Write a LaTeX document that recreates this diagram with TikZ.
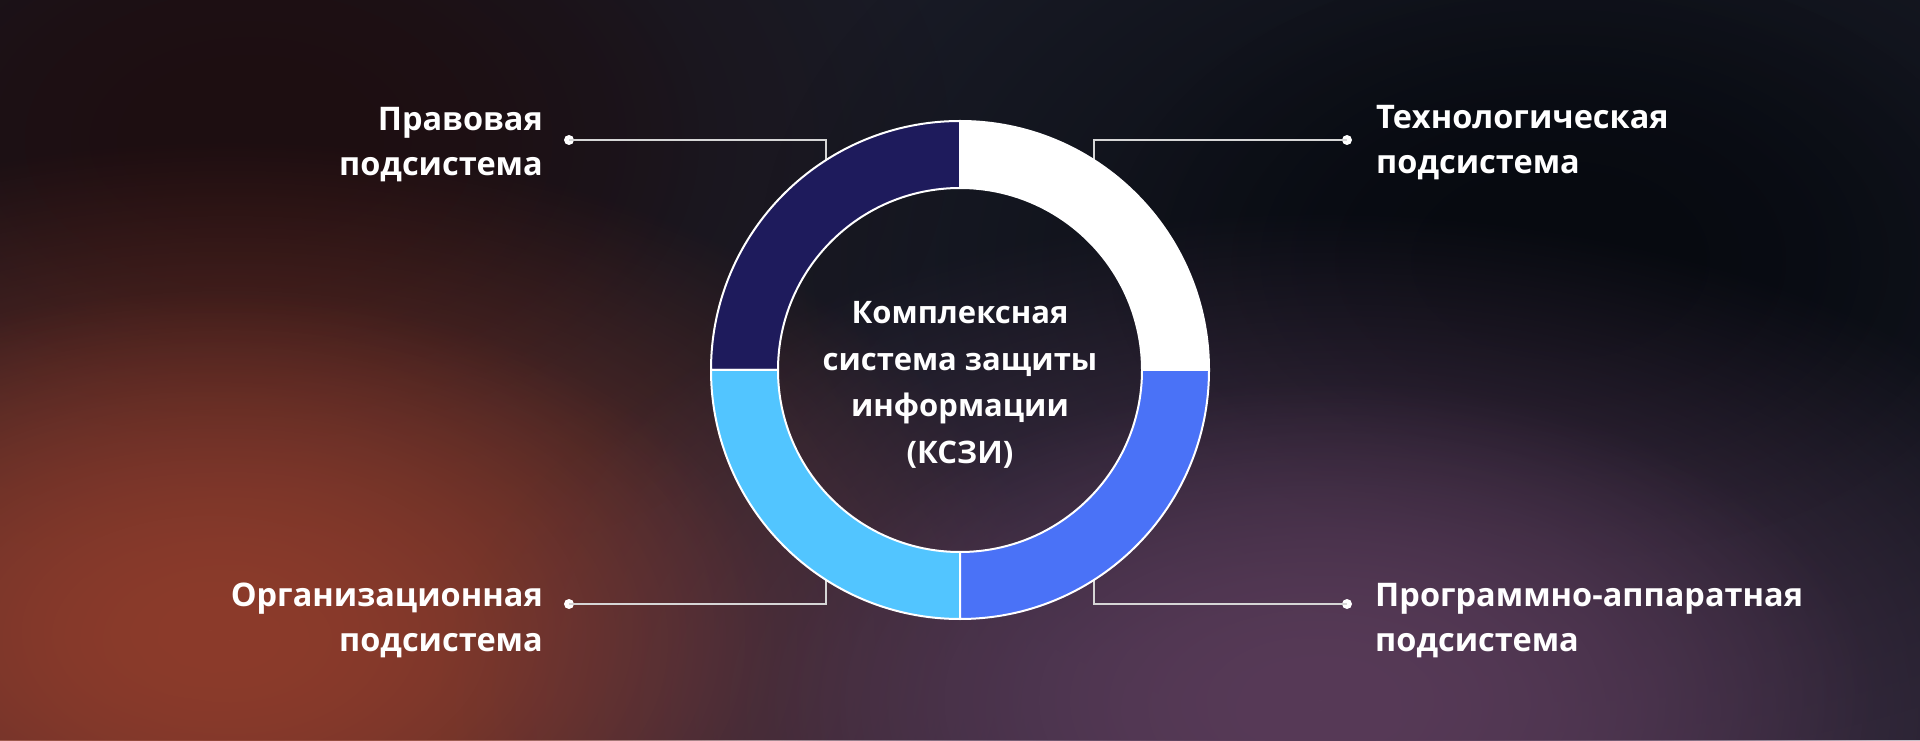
\documentclass[tikz,border=0pt]{standalone}
\usepackage{fontspec}
\setmainfont{Open Sans}
\usetikzlibrary{fadings}
\definecolor{bgbase}{HTML}{191B26}
\definecolor{glowtl}{HTML}{1E0E11}
\definecolor{glowtr}{HTML}{070A10}
\definecolor{gloworange}{HTML}{8C3B2B}
\definecolor{glowpurple}{HTML}{573A57}
\definecolor{segnavy}{HTML}{1E1B5C}
\definecolor{segblue}{HTML}{4A72F7}
\definecolor{segsky}{HTML}{52C5FF}
\definecolor{linkgrey}{HTML}{D6D6D6}
\tikzfading[name=softglow, inner color=transparent!0, outer color=transparent!100]
\tikzset{
  seg/.style={draw=white, line width=2pt, line join=round},
  link/.style={draw=linkgrey, line width=2.2pt},
  dot/.style={circle, fill=white, inner sep=0pt, minimum size=10pt},
  lbl/.style={text=white, font=\fontsize{32.5}{45}\selectfont\bfseries, inner sep=0pt},
  ctr/.style={text=white, font=\fontsize{31}{46.7}\selectfont\bfseries, inner sep=0pt, align=center},
}
\begin{document}
\begin{tikzpicture}[x=1pt,y=1pt]
\fill[bgbase] (0,0) rectangle (1920,740);
\useasboundingbox (0,0) rectangle (1920,740);
\begin{scope}
\clip (0,0) rectangle (1920,740);
\fill[glowtl, path fading=softglow] (250,600) ellipse (700 and 450);
\fill[glowtl, path fading=softglow] (250,600) ellipse (450 and 300);
\fill[glowtr, path fading=softglow] (1560,480) ellipse (800 and 500);
\fill[glowtr, path fading=softglow] (1560,480) ellipse (450 and 300);
\fill[gloworange, path fading=softglow] (230,100) ellipse (820 and 500);
\fill[gloworange, path fading=softglow] (210,110) ellipse (560 and 340);
\fill[glowpurple, path fading=softglow] (1320,30) ellipse (880 and 500);
\fill[glowpurple, path fading=softglow] (1320,40) ellipse (560 and 320);
\end{scope}

\coordinate (C) at (960,370);

% connectors
\node[dot] (d1) at (569,600) {};
\node[dot] (d2) at (1347,600) {};
\node[dot] (d3) at (569,136) {};
\node[dot] (d4) at (1347,136) {};
\coordinate (k1) at (826,600);
\coordinate (k2) at (1094,600);
\coordinate (k3) at (826,136);
\coordinate (k4) at (1094,136);
\coordinate (e1) at (826,540);
\coordinate (e2) at (1094,540);
\coordinate (e3) at (826,200);
\coordinate (e4) at (1094,200);
\draw[link] (d1.center) -- (k1) -- (e1);
\draw[link] (d2.center) -- (k2) -- (e2);
\draw[link] (d3.center) -- (k3) -- (e3);
\draw[link] (d4.center) -- (k4) -- (e4);

% ring
\filldraw[seg, fill=white] ([shift={(0:249)}]C) arc[start angle=0, end angle=90, radius=249]
  -- ([shift={(90:182)}]C) arc[start angle=90, end angle=0, radius=182] -- cycle;
\filldraw[seg, fill=segnavy] ([shift={(90:249)}]C) arc[start angle=90, end angle=180, radius=249]
  -- ([shift={(180:182)}]C) arc[start angle=180, end angle=90, radius=182] -- cycle;
\filldraw[seg, fill=segsky] ([shift={(180:249)}]C) arc[start angle=180, end angle=270, radius=249]
  -- ([shift={(270:182)}]C) arc[start angle=270, end angle=180, radius=182] -- cycle;
\filldraw[seg, fill=segblue] ([shift={(270:249)}]C) arc[start angle=270, end angle=360, radius=249]
  -- ([shift={(360:182)}]C) arc[start angle=360, end angle=270, radius=182] -- cycle;

% labels
\node[lbl, anchor=north east, align=right] (t1) at (543,633) {Правовая\\подсистема};
\node[lbl, anchor=north west, align=left] (t2) at (1376,635) {Технологическая\\подсистема};
\node[lbl, anchor=north east, align=right] (t3) at (543,157) {Организационная\\подсистема};
\node[lbl, anchor=north west, align=left] (t4) at (1375,157) {Программно-аппаратная\\подсистема};

\node[ctr, anchor=north] (ctext) at (960,439) {Комплексная\\система защиты\\информации\\(КСЗИ)};
\end{tikzpicture}
\end{document}
